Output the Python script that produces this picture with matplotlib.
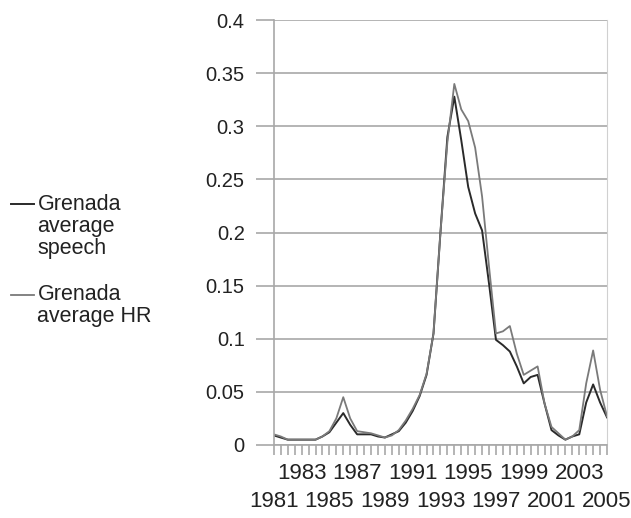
import numpy as np
import matplotlib
matplotlib.use('Agg')
import matplotlib.pyplot as plt
from matplotlib.legend_handler import HandlerLine2D

plt.rcParams['font.family'] = ['Liberation Sans', 'DejaVu Sans']

# half-year periods, 1981 to 2005
periods = np.arange(1981, 2005.01, 0.5)

speech = [0.009, 0.007, 0.005, 0.005, 0.005, 0.005, 0.005, 0.008, 0.012, 0.021,
          0.030, 0.019, 0.010, 0.010, 0.010, 0.008, 0.007, 0.010, 0.013, 0.021,
          0.032, 0.046, 0.066, 0.105, 0.200, 0.290, 0.328, 0.287, 0.243, 0.218,
          0.202, 0.152, 0.099, 0.094, 0.088, 0.074, 0.058, 0.064, 0.066, 0.039,
          0.014, 0.009, 0.005, 0.008, 0.010, 0.040, 0.057, 0.040, 0.026]

hr = [0.010, 0.008, 0.005, 0.005, 0.005, 0.005, 0.005, 0.008, 0.013, 0.025,
      0.045, 0.025, 0.013, 0.012, 0.011, 0.009, 0.007, 0.009, 0.014, 0.023,
      0.034, 0.047, 0.067, 0.105, 0.200, 0.285, 0.340, 0.316, 0.305, 0.280,
      0.234, 0.168, 0.105, 0.107, 0.112, 0.086, 0.066, 0.070, 0.074, 0.039,
      0.017, 0.011, 0.005, 0.008, 0.014, 0.058, 0.089, 0.052, 0.027]

upper_years = [1983, 1987, 1991, 1995, 1999, 2003]
lower_years = [1981, 1985, 1989, 1993, 1997, 2001, 2005]
y_ticks = [0, 0.05, 0.1, 0.15, 0.2, 0.25, 0.3, 0.35, 0.4]
y_labels = ['0', '0.05', '0.1', '0.15', '0.2', '0.25', '0.3', '0.35', '0.4']
names = ['Grenada\naverage\nspeech', 'Grenada\naverage HR']

GRID = '#a8a8a8'


class TopLineHandler(HandlerLine2D):
    # put the legend line next to the first text line instead of the middle
    def __init__(self, shift, **kw):
        super().__init__(**kw)
        self.shift = shift

    def create_artists(self, legend, orig_handle, xdescent, ydescent, width, height, fontsize, trans):
        arts = super().create_artists(legend, orig_handle, xdescent, ydescent, width, height,
                                      fontsize, trans)
        for a in arts:
            a.set_ydata(np.asarray(a.get_ydata()) + self.shift)
        return arts


fig = plt.figure(figsize=(6.31, 5.18), dpi=100)
ax = fig.add_axes([0.434, 0.141, 0.528, 0.820])

l1, = ax.plot(periods, speech, color='#2a2a2a', lw=1.4)
l2, = ax.plot(periods, hr, color='#7a7a7a', lw=1.3)

ax.set_xlim(1981, 2005)
ax.set_ylim(0, 0.4)
ax.set_yticks(y_ticks)
ax.set_yticklabels(y_labels)
ax.yaxis.grid(True, color=GRID, lw=1.2)
ax.set_axisbelow(True)

ax.set_xticks(upper_years)
ax.set_xticklabels([str(y) for y in upper_years])
ax.set_xticks(periods, minor=True)

ax.tick_params(axis='y', length=13, width=1.2, color=GRID, labelsize=14.5, pad=8,
               labelcolor='#222222')
ax.tick_params(axis='x', which='both', length=7, width=1.2, color=GRID)
ax.tick_params(axis='x', which='major', labelsize=16, pad=6, labelcolor='#222222')

# second row of staggered labels
sec = ax.secondary_xaxis('bottom')
sec.set_xticks(lower_years)
sec.set_xticklabels([str(y) for y in lower_years])
sec.tick_params(axis='x', length=0, labelsize=16, pad=33, labelcolor='#222222')
sec.spines['bottom'].set_visible(False)

for s in ['left', 'bottom']:
    ax.spines[s].set_color(GRID)
    ax.spines[s].set_linewidth(1.2)
ax.spines['right'].set_color('#d0d0d0')
ax.spines['top'].set_visible(False)

leg = fig.legend([l1, l2], names, loc='center left', bbox_to_anchor=(0.003, 0.497),
                 frameon=False, fontsize=15.5, handlelength=1.1, handletextpad=0.15,
                 labelspacing=1.2, borderaxespad=0.0, borderpad=0.4,
                 handler_map={l1: TopLineHandler(16.0), l2: TopLineHandler(8.0)})
for t in leg.get_texts():
    t.set_linespacing(1.05)
    t.set_color('#222222')

fig.savefig('out.png', dpi=100)
